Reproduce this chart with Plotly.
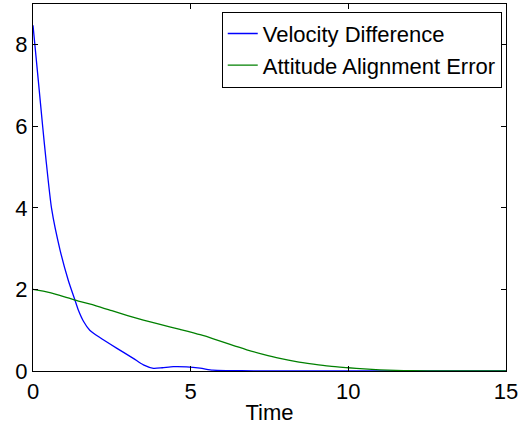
import plotly.graph_objects as go

# Velocity Difference
t_vel = [0, 0.17, 0.31, 0.41, 0.59, 0.86, 1.12, 1.33, 1.44, 1.6, 1.8, 2.12, 2.65,
         3.18, 3.5, 3.82, 4.1, 4.45, 4.87, 5.3, 5.7, 6.2, 7, 8, 10, 12, 15]
v_vel = [8.48, 7.11, 5.97, 5.2, 3.98, 2.96, 2.22, 1.74, 1.49, 1.22, 1.0, 0.82, 0.56,
         0.31, 0.15, 0.066, 0.08, 0.105, 0.10, 0.07, 0.02, 0.01, 0.005, 0.002, 0.001, 0.0, 0.0]

# Attitude Alignment Error
t_att = [0, 0.5, 1, 1.33, 2, 2.5, 3, 3.5, 4, 4.66, 5.3, 5.72, 6.25, 6.78, 7.3,
         7.83, 8.35, 8.89, 9.4, 10, 10.5, 11, 11.5, 12, 13, 14, 15]
v_att = [2.0, 1.93, 1.82, 1.74, 1.6, 1.48, 1.36, 1.25, 1.15, 1.02, 0.89, 0.79,
         0.65, 0.52, 0.41, 0.31, 0.23, 0.17, 0.12, 0.08, 0.05, 0.03, 0.015, 0.008,
         0.003, 0.001, 0.0]

x_ticks = [0, 5, 10, 15]
y_ticks = [0, 2, 4, 6, 8]

fig = go.Figure()
fig.add_trace(go.Scatter(x=t_vel, y=v_vel, mode="lines", name="Velocity Difference",
                         line=dict(color="#0000ff", width=1.3, shape="spline", smoothing=0.6)))
fig.add_trace(go.Scatter(x=t_att, y=v_att, mode="lines", name="Attitude Alignment Error",
                         line=dict(color="#008000", width=1.3, shape="spline", smoothing=0.6)))

font_family = "Liberation Sans, Arial, sans-serif"
axis_common = dict(showgrid=False, zeroline=False, showline=True, linecolor="black",
                   linewidth=1.2, mirror="ticks", ticks="inside", ticklen=5,
                   tickcolor="black", tickwidth=1,
                   tickfont=dict(family=font_family, size=22, color="black"))

fig.update_layout(
    width=526, height=429,
    margin=dict(l=33, r=20, t=4, b=58),
    paper_bgcolor="white", plot_bgcolor="white",
    font=dict(family=font_family, size=22, color="black"),
    xaxis=dict(range=[0, 15], tickvals=x_ticks,
               title=dict(text="Time", font=dict(family=font_family, size=22), standoff=2),
               **axis_common),
    yaxis=dict(range=[0, 9], tickvals=y_ticks, **axis_common),
    legend=dict(x=0.991, y=0.979, xanchor="right", yanchor="top",
                bordercolor="black", borderwidth=1, bgcolor="white",
                font=dict(family=font_family, size=22, color="black"),
                tracegroupgap=0),
    showlegend=True,
)

fig.write_html("out.html")
